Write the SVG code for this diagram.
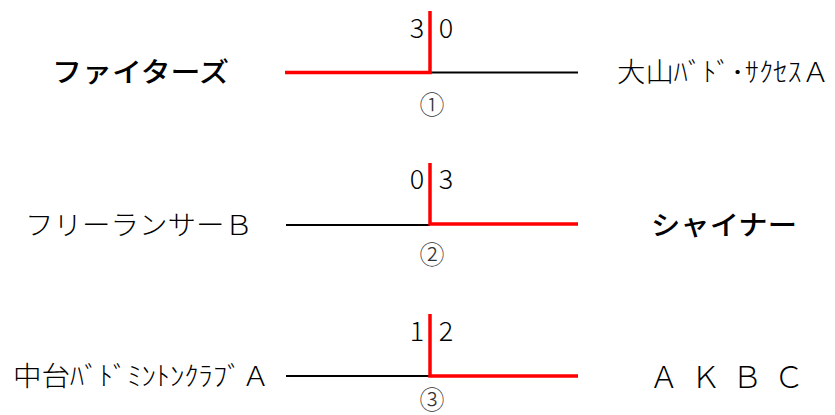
<svg xmlns="http://www.w3.org/2000/svg" width="835" height="415" viewBox="0 0 835 415">
<style>
.t{font-family:"Noto Sans CJK JP","Noto Sans",sans-serif;fill:#000}
.team{font-size:27px;font-weight:300}
.b{font-weight:500}
.sc{font-family:"Noto Sans CJK JP","Noto Sans",sans-serif;font-size:27px;fill:#000;text-anchor:middle;font-weight:300}
.no{font-family:"Noto Sans CJK JP","Noto Sans",sans-serif;font-size:25px;fill:#333;text-anchor:middle;font-weight:300}
.red{stroke:#ff0000;stroke-width:3.5;fill:none}
.blk{stroke:#000;stroke-width:2;fill:none}
</style>
<rect width="835" height="415" fill="#fff"/>
<g id="connectors">
<path class="blk" d="M430 72.5H578"/>
<path class="red" d="M285 72.5H430V11"/>
<path class="blk" d="M286 225H430"/>
<path class="red" d="M578 224H430V163"/>
<path class="blk" d="M286 376H430"/>
<path class="red" d="M578 376H430V314"/>
</g>
<g id="m1">
<text class="t team b" x="52" y="82" textLength="177" lengthAdjust="spacingAndGlyphs">ファイターズ</text>
<text class="t team" x="617" y="82" textLength="213" lengthAdjust="spacingAndGlyphs">大山ﾊﾞﾄﾞ･ｻｸｾｽＡ</text>
<text class="sc" x="417" y="38">3</text>
<text class="sc" x="446" y="38">0</text>
<text class="no" x="432" y="114">①</text>
</g>
<g id="m2">
<text class="t team" x="25" y="235" textLength="228" lengthAdjust="spacingAndGlyphs">フリーランサーＢ</text>
<text class="t team b" x="651" y="235" textLength="146" lengthAdjust="spacingAndGlyphs">シャイナー</text>
<text class="sc" x="417" y="189">0</text>
<text class="sc" x="446" y="189">3</text>
<text class="no" x="432" y="264">②</text>
</g>
<g id="m3">
<text class="t team" x="13" y="386" textLength="257" lengthAdjust="spacingAndGlyphs">中台ﾊﾞﾄﾞﾐﾝﾄﾝｸﾗﾌﾞＡ</text>
<text class="t team" x="649" y="388" style="font-size:30px" textLength="155" lengthAdjust="spacing">Ａ Ｋ Ｂ Ｃ</text>
<text class="sc" x="417" y="341">1</text>
<text class="sc" x="446" y="341">2</text>
<text class="no" x="432" y="409">③</text>
</g>
</svg>
